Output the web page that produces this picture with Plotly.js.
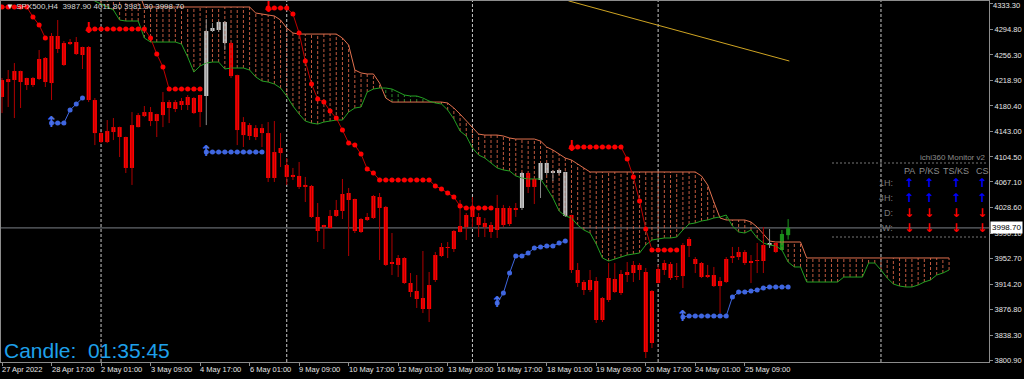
<!DOCTYPE html>
<html><head><meta charset="utf-8">
<script src="https://cdn.plot.ly/plotly-3.0.1.min.js"></script>
<style>html,body{margin:0;padding:0;background:#000;overflow:hidden}#chart{width:1024px;height:379px}</style>
</head><body><div id="chart"></div>
<script>
// ---------- DATA ----------
const symbolName = "SPX500";
const timeframe = "H4";

const openP = [4193.7,4220.5,4219.0,4232.4,4211.6,4222.0,4220.5,4251.8,4214.5,4284.6,
4241.4,4275.6,4275.6,4256.3,4268.2,4189.2,4140.0,4126.6,4141.5,4148.9,
4134.1,4088.0,4148.9,4165.3,4171.3,4157.9,4166.8,4186.2,4175.8,4187.7,
4181.8,4192.2,4171.3,4195.2,4292.0,4293.5,4305.4,4274.1,4226.4,4137.0,
4151.9,4134.1,4147.4,4140.0,4073.1,4117.7,4092.4,4074.6,4076.1,4059.7,
4061.2,4015.0,3999.9,3998.6,4016.5,4023.9,4050.7,4041.8,3992.6,4010.5,
4013.5,4044.7,4029.9,3944.9,3943.5,3953.9,3916.6,3904.7,3894.3,3877.9,
3921.1,3956.8,3970.3,3967.3,3992.6,3999.9,4015.0,4015.0,4006.0,4003.0,
3995.6,4028.4,4004.5,4028.4,4028.4,4080.5,4059.7,4070.1,4095.4,4080.5,
4085.0,4082.0,4017.9,3936.0,3918.1,3906.2,3919.6,3861.5,3891.3,3922.6,
3901.7,3933.0,3931.5,3943.5,3933.0,3827.2,3916.6,3936.0,3944.9,3925.5,
3927.0,3971.8,3952.4,3946.4,3925.5,3928.5,3912.1,3918.1,3953.8,3955.3,
3962.8,3946.4,3949.4,3949.4,3973.2,3976.2,3965.8,3987.9];

const highP = [4222.0,4233.9,4244.3,4233.0,4222.5,4223.5,4263.7,4253.3,4289.0,4308.4,
4277.1,4280.1,4283.1,4268.7,4269.7,4192.2,4141.5,4159.4,4162.4,4149.5,
4134.6,4171.3,4169.8,4180.3,4178.8,4168.8,4201.1,4189.2,4189.2,4192.2,
4196.7,4193.7,4197.2,4309.9,4303.9,4306.9,4306.9,4275.6,4227.0,4163.8,
4154.9,4151.9,4153.4,4156.4,4157.9,4140.0,4102.8,4088.0,4096.9,4074.6,
4062.7,4035.8,4003.5,4025.4,4040.3,4071.6,4058.2,4042.3,4013.5,4020.9,
4047.8,4050.7,4031.4,3991.1,3958.3,3955.3,3931.5,3928.5,3964.3,3933.0,
3962.8,3976.2,3977.7,3995.6,4040.3,4020.9,4044.7,4020.9,4013.5,4007.5,
4047.8,4032.9,4031.4,4035.8,4082.0,4082.0,4072.0,4096.0,4096.0,4085.0,
4086.5,4082.5,4018.4,3946.4,3921.1,3936.0,3925.5,3895.8,3946.4,3946.4,
3936.0,3947.9,3949.4,3946.4,3939.0,3906.2,3943.5,3950.9,3947.9,3946.4,
3976.2,3985.1,3955.3,3947.9,3943.5,3940.5,3925.5,3955.3,3970.3,3970.3,
3965.8,3958.3,3976.2,4000.1,3997.1,3977.7,3995.6,4011.8];

const lowP = [4169.8,4178.8,4162.4,4177.3,4204.1,4208.6,4219.0,4208.6,4189.2,4259.2,
4239.9,4271.1,4256.3,4235.4,4186.2,4122.1,4125.1,4125.1,4129.6,4104.3,
4080.5,4062.7,4148.4,4163.8,4150.4,4134.1,4148.9,4154.9,4171.3,4174.3,
4174.3,4168.3,4148.9,4151.9,4290.5,4290.5,4263.7,4222.0,4122.1,4119.2,
4129.6,4129.6,4119.2,4067.1,4067.1,4089.4,4062.7,4070.1,4056.7,4037.3,
4013.5,3977.7,3967.3,3997.1,4015.0,4012.0,3956.8,3991.1,3991.1,4009.0,
4012.0,3950.9,3942.0,3928.5,3925.5,3915.1,3895.8,3879.4,3871.9,3858.5,
3918.1,3955.3,3953.8,3962.8,3992.0,3980.7,3999.9,3985.1,3985.1,3983.7,
3983.7,3999.9,4001.5,4015.0,4025.4,4050.7,4034.3,4043.3,4077.6,4068.6,
4077.6,4015.0,3931.5,3910.7,3898.8,3903.2,3857.0,3858.5,3888.3,3901.7,
3898.8,3918.1,3918.1,3921.1,3804.9,3819.8,3916.0,3928.5,3921.1,3921.1,
3909.2,3955.3,3931.5,3924.0,3924.0,3910.7,3871.9,3916.6,3946.4,3950.9,
3943.5,3916.6,3931.5,3931.5,3968.8,3961.3,3965.3,3981.3];

const closeP = [4219.0,4216.0,4232.4,4216.0,4222.0,4211.6,4250.3,4216.0,4284.6,4265.2,
4274.1,4272.6,4257.7,4268.2,4189.2,4140.0,4126.6,4143.0,4148.9,4134.1,
4088.0,4151.9,4166.8,4171.3,4157.9,4168.3,4186.2,4177.3,4186.2,4181.8,
4193.7,4169.8,4196.7,4292.0,4296.5,4305.4,4274.1,4224.9,4144.5,4156.4,
4135.6,4147.4,4140.0,4073.1,4111.7,4110.2,4074.6,4077.6,4059.7,4062.7,
4015.0,3994.1,4003.0,4016.5,4025.4,4049.2,4040.3,3994.1,4012.0,4015.0,
4046.2,4028.4,3943.5,3947.9,3953.9,3916.6,3903.2,3892.8,3877.9,3913.6,
3958.3,3970.3,3968.8,3994.1,4001.5,4017.9,4029.9,4003.0,3999.9,3992.6,
4028.4,4003.0,4028.4,4025.4,4080.5,4059.7,4071.6,4095.4,4080.5,4083.5,
4080.5,4016.5,3936.0,3916.6,3906.2,3921.1,3861.5,3894.3,3924.1,3903.2,
3930.0,3928.5,3943.5,3936.0,3813.8,3904.7,3937.5,3946.4,3924.1,3927.0,
3973.2,3982.2,3944.9,3925.5,3928.5,3912.1,3919.6,3952.4,3956.8,3962.8,
3946.4,3949.4,3950.9,3973.2,3976.2,3962.8,3989.6,3998.7];

// candle colouring state of the indicator (gray = neutral, green = bullish, else red)
const grayIdx = [33,34,35,36,84,87,88,89,90,91,124];
const greenIdx = [126,127];

// Ichimoku Senkou spans (plotted 26 bars ahead, 154 points)
const senkouA = [4352,4352,4352,4352,4352,4352,4352,4352,4352,4352,
4352,4352,4352,4352,4343,4336.7,4332.3,4327.8,4323.3,4308.4,
4306.9,4306.9,4306.9,4281.6,4275.6,4275.6,4275.6,4275.6,4275.6,4272.6,
4253.3,4230.9,4239.9,4244.3,4245.8,4245.8,4235.4,4236.9,4236.9,4236.9,
4233.9,4223.5,4217.5,4216.0,4213.1,4207.1,4195.2,4180.3,4168.3,4157.9,
4154.9,4153.4,4156.4,4157.9,4159.4,4159.4,4171.3,4177.3,4178.8,4201.1,
4205.6,4207.1,4207.1,4205.6,4201.1,4196.7,4195.2,4195.2,4192.2,4187.7,
4184.8,4183.3,4174.3,4160.9,4143.0,4135.6,4117.7,4107.3,4102.8,4095.4,
4088.0,4085.0,4083.5,4076.1,4073.1,4071.6,4071.6,4071.6,4058.2,4043.3,
4023.9,4016.5,4013.5,4003.0,3995.6,3991.1,3974.7,3953.9,3949.4,3952.4,
3955.3,3958.3,3959.8,3961.3,3973.2,3980.7,3982.2,3983.7,3983.7,3985.1,
3995.6,4004.5,4006.0,4009.0,4010.5,4013.5,4015.0,4017.9,4001.5,3992.6,
3991.1,3995.6,3983.7,3976.2,3973.2,3971.8,3965.8,3947.9,3940.5,3940.5,
3918.1,3918.1,3918.1,3918.1,3918.1,3918.1,3925.5,3925.5,3925.5,3925.5,
3946.4,3946.4,3936.0,3924.1,3915.1,3912.1,3910.7,3910.7,3913.6,3918.1,
3921.1,3928.5,3931.5,3936.0];

const senkouB = [4352,4352,4352,4352,4352,4352,4352,4352,4352,4352,
4352,4352,4352,4352,4352,4352,4352,4352,4352,4352,
4352,4352,4352,4327.8,4327.8,4327.8,4327.8,4327.8,4327.8,4327.8,
4327.8,4327.8,4327.8,4327.8,4327.8,4327.8,4327.8,4327.8,4327.8,4327.8,
4327.8,4318.8,4317.3,4315.9,4314.4,4308.4,4296.5,4289.0,4287.5,4287.5,
4287.5,4287.5,4287.5,4287.5,4287.5,4281.6,4271.1,4233.9,4229.5,4228.0,
4228.0,4214.5,4192.2,4186.2,4186.2,4186.2,4186.2,4186.2,4186.2,4186.2,
4186.2,4186.2,4184.8,4177.3,4168.3,4157.9,4147.4,4138.5,4137.0,4137.0,
4137.0,4135.6,4132.6,4131.1,4131.1,4131.1,4131.1,4128.1,4119.2,4114.7,
4108.8,4102.8,4099.8,4093.9,4087.9,4082.0,4082.0,4082.0,4082.0,4082.0,
4082.0,4082.0,4082.0,4082.0,4082.0,4082.0,4082.0,4082.0,4082.0,4082.0,
4082.0,4082.0,4082.0,4076.1,4062.7,4037.3,4013.5,4010.5,4010.5,4010.5,
4010.5,4007.5,4000.0,3989.6,3979.2,3977.7,3977.7,3977.7,3977.7,3977.7,
3953.9,3953.9,3953.9,3953.9,3953.9,3953.9,3953.9,3953.9,3953.9,3953.9,
3953.9,3953.9,3953.9,3953.9,3953.9,3953.9,3953.9,3953.9,3953.9,3953.9,
3953.9,3953.9,3953.9,3953.9];

// trailing stop dots (red = above price, blue = below price)
const trailRed = [4327.8,4327.8,4327.8,4327.8,4327.8,4312.9,4301.0,4281.6,null,null,
null,null,null,null,4295.0,4295.0,4295.0,4295.0,4295.0,4295.0,
4295.0,4295.0,4295.0,4295.0,4281.6,4257.7,4238.4,4205.6,4205.6,4205.6,
4205.6,4205.6,4205.6,null,null,null,null,null,null,null,
null,null,null,4326.3,4326.3,4326.3,4326.3,4317.3,4289.0,4247.3,
4213.1,4190.7,4186.2,4172.8,4162.4,4144.5,4125.1,4122.1,4108.8,4086.5,
4080.5,4070.1,4070.1,4070.1,4070.1,4070.1,4070.1,4070.1,4070.1,4070.1,
4061.2,4056.7,4050.7,4044.7,4031.4,4028.4,4028.4,4028.4,4028.4,4028.4,
null,null,null,null,null,null,null,null,null,null,
null,null,4119.2,4119.2,4119.2,4119.2,4119.2,4119.2,4119.2,4119.2,
4119.2,4101.3,4074.6,4038.8,3997.1,3965.8,3965.8,3965.8,3965.8,3965.8,
null,null,null,null,null,null,null,null,null,null,
null,null,null,null,null,null,null,null];

const trailBlue = [null,null,null,null,null,null,null,null,4154.9,4154.9,
4154.9,4174.3,4183.2,4192.2,null,null,null,null,null,null,
null,null,null,null,null,null,null,null,null,null,
null,null,null,4111.7,4111.7,4111.7,4111.7,4111.7,4111.7,4111.7,
4111.7,4111.7,4111.7,null,null,null,null,null,null,null,
null,null,null,null,null,null,null,null,null,null,
null,null,null,null,null,null,null,null,null,null,
null,null,null,null,null,null,null,null,null,null,
3886.8,3901.7,3931.5,3956.8,3956.8,3961.3,3968.8,3970.3,3971.8,3971.8,
3976.2,3979.2,null,null,null,null,null,null,null,null,
null,null,null,null,null,null,null,null,null,null,
3866.0,3867.5,3867.5,3867.5,3867.5,3867.5,3867.5,3867.5,3895.8,3903.2,
3903.2,3904.7,3906.2,3909.2,3910.7,3910.7,3910.7,3910.7];

const arrowDownIdx = [14,43,92];
const arrowUpIdx = [8,33,80,110];

// trend line object (yellow)
const trendX = [91.5,127.2];
const trendY = [4337.0,4247.3];

// weekly separators (bar index)
const separatorIdx = [16,46,76,106,142];

// axes
const xTickIdx = [0,8,16,24,32,40,48,56,64,72,80,88,96,104,112,120];
const xTickText = ["27 Apr 2022","28 Apr 17:00","2 May 01:00","3 May 09:00","4 May 17:00","6 May 01:00",
"9 May 09:00","10 May 17:00","12 May 01:00","13 May 09:00","16 May 17:00","18 May 01:00",
"19 May 09:00","20 May 17:00","24 May 01:00","25 May 09:00"];
const yTickVals = [4333.30,4294.80,4256.30,4218.90,4180.40,4143.00,4104.50,4067.10,4028.60,3990.10,3952.70,3914.20,3876.80,3838.30,3800.90];
const yTickText = yTickVals.map(v=>v.toFixed(2));

// monitor panel
const monitorTitle = "ichi360 Monitor v2";
const monitorCols = ["PA","P/KS","TS/KS","CS"];
const monitorRows = ["1H:","4H:","D:","W:"];
const monitorSignals = [[1,1,1,1],[1,1,1,1],[-1,-1,-1,-1],[-1,-1,-1,-1]];
const candleTimer = "01:35:45";

// ---------- BUILD ----------
const N = openP.length;
const idx = openP.map((_,i)=>i);
const cIdx = senkouA.map((_,i)=>i);
const lastClose = closeP[N-1];
const stateOf = i => greenIdx.includes(i) ? 'g' : (grayIdx.includes(i) ? 'n' : 'r');
const wickCol = {r:'#b00000', n:'#8a8a8a', g:'#1c9a1c'};
const bodyCol = {r:'#ff0000', n:'#c8c8c8', g:'#1a8c1a'};

const traces = [];
// hatch
const bearX=[],bearY=[],bullX=[],bullY=[];
cIdx.forEach(i=>{
  const a=senkouA[i], b=senkouB[i];
  if (Math.abs(a-b)<0.3) return;
  if (b>a){bearX.push(i,i,null);bearY.push(a,b,null);}
  else {bullX.push(i,i,null);bullY.push(b,a,null);}
});
traces.push({type:'scatter',mode:'lines',x:bearX,y:bearY,line:{color:'rgba(214,100,70,0.9)',width:1,dash:'3px,2px'},hoverinfo:'skip'});
traces.push({type:'scatter',mode:'lines',x:bullX,y:bullY,line:{color:'#2f8a2f',width:1,dash:'3px,2px'},hoverinfo:'skip'});
traces.push({type:'scatter',mode:'lines',x:cIdx,y:senkouB,line:{color:'#e0704e',width:1},hoverinfo:'skip'});
traces.push({type:'scatter',mode:'lines',x:cIdx,y:senkouA,line:{color:'#22a022',width:1},hoverinfo:'skip'});

// wicks
['r','n','g'].forEach(s=>{
  const wx=[],wy=[];
  idx.forEach(i=>{ if(stateOf(i)===s){wx.push(i,i,null);wy.push(lowP[i],highP[i],null);} });
  traces.push({type:'scatter',mode:'lines',x:wx,y:wy,line:{color:wickCol[s],width:1},hoverinfo:'skip'});
});
// bodies
const minH = 1.5;
const bBase=[], bH=[], bC=[];
idx.forEach(i=>{
  let lo=Math.min(openP[i],closeP[i]), hi=Math.max(openP[i],closeP[i]);
  if (hi-lo<minH){const m=(hi+lo)/2; lo=m-minH/2; hi=m+minH/2;}
  bBase.push(lo); bH.push(hi-lo); bC.push(bodyCol[stateOf(i)]);
});
traces.push({type:'bar',x:idx,y:bH,base:bBase,width:0.66,marker:{color:bC,line:{width:0}},hoverinfo:'skip'});

// trend line
traces.push({type:'scatter',mode:'lines',x:trendX,y:trendY,line:{color:'#cfa422',width:1},hoverinfo:'skip'});
// trailing stops
traces.push({type:'scatter',mode:'lines+markers',x:idx,y:trailRed,line:{color:'#c00000',width:1},marker:{color:'#ff0000',size:5},hoverinfo:'skip'});
traces.push({type:'scatter',mode:'lines+markers',x:idx,y:trailBlue,line:{color:'#3f66e0',width:1},marker:{color:'#3f66e0',size:5},hoverinfo:'skip'});
// arrows
traces.push({type:'scatter',mode:'text',x:arrowDownIdx,y:arrowDownIdx.map(i=>trailRed[i]),text:arrowDownIdx.map(()=>'↓'),
  textfont:{family:'DejaVu Sans',size:15,weight:'bold',color:'#ff0000'},textposition:'middle center',hoverinfo:'skip',cliponaxis:true});
traces.push({type:'scatter',mode:'text',x:arrowUpIdx,y:arrowUpIdx.map(i=>trailBlue[i]),text:arrowUpIdx.map(()=>'↑'),
  textfont:{family:'DejaVu Sans',size:15,weight:'bold',color:'#4a70ea'},textposition:'middle center',hoverinfo:'skip',cliponaxis:false});

// ---------- LAYOUT ----------
const L=1, R=35, T=1, B=17, W=1024, H=379;
const pw=W-L-R, ph=H-T-B;
const px2paperX = px => (px-L)/pw;
const px2paperY = py => (H-B-py)/ph;
const lblFont = {family:'Liberation Sans, Arial, sans-serif',size:7.5,color:'#e6e6e6'};

const shapes = [];
separatorIdx.forEach(s=>shapes.push({type:'line',xref:'x',yref:'paper',x0:s,x1:s,y0:0,y1:1,layer:'below',line:{color:'#c8c8c8',width:1,dash:'3px,2px'}}));
shapes.push({type:'line',xref:'paper',yref:'y',x0:0,x1:1,y0:lastClose,y1:lastClose,layer:'below',line:{color:'#7c8088',width:1}});
shapes.push({type:'line',xref:'paper',yref:'paper',x0:px2paperX(832),x1:px2paperX(986),y0:px2paperY(163),y1:px2paperY(163),line:{color:'#777',width:1,dash:'2px,2px'}});
shapes.push({type:'line',xref:'paper',yref:'paper',x0:px2paperX(832),x1:px2paperX(986),y0:px2paperY(237),y1:px2paperY(237),line:{color:'#777',width:1,dash:'2px,2px'}});

const ann = [];
xTickIdx.forEach((k,j)=>ann.push({x:k,xref:'x',y:px2paperY(369),yref:'paper',xanchor:'left',yanchor:'middle',xshift:-2,
  text:xTickText[j],showarrow:false,font:lblFont}));
// top price label (drawn as text so it is not dropped at the edge)
ann.push({x:1,xref:'paper',y:1,yref:'paper',xanchor:'left',yanchor:'top',xshift:3,yshift:1,borderpad:0,text:yTickText[0],showarrow:false,font:lblFont});
ann.push({x:1,xref:'paper',y:lastClose,yref:'y',xanchor:'left',yanchor:'middle',xshift:1,text:lastClose.toFixed(2),showarrow:false,
  bgcolor:'#ffffff',borderpad:1,font:{family:'Liberation Sans, Arial, sans-serif',size:8,color:'#000'}});
ann.push({x:px2paperX(4),xref:'paper',y:px2paperY(7),yref:'paper',xanchor:'left',yanchor:'middle',showarrow:false,
  text:'▼ '+symbolName+','+timeframe+'  '+openP[N-1].toFixed(2)+' '+highP[N-1].toFixed(2)+' '+lowP[N-1].toFixed(2)+' '+closeP[N-1].toFixed(2),
  font:{family:'Liberation Sans, Arial, sans-serif',size:8,color:'#d8d8d8'}});
ann.push({x:px2paperX(2),xref:'paper',y:px2paperY(350),yref:'paper',xanchor:'left',yanchor:'middle',showarrow:false,
  text:'Candle:\u00a0\u00a0'+candleTimer,font:{family:'Liberation Sans, Arial, sans-serif',size:21,color:'#1ea0ea'}});
// monitor
ann.push({x:px2paperX(987),xref:'paper',y:px2paperY(157),yref:'paper',xanchor:'right',yanchor:'middle',showarrow:false,
  text:monitorTitle,font:{family:'Liberation Sans, Arial, sans-serif',size:8,color:'#8c8c8c'}});
const colPx=[909,929,956,982], rowPy=[183,198,213,228];
monitorCols.forEach((c,j)=>ann.push({x:px2paperX(colPx[j]),xref:'paper',y:px2paperY(171),yref:'paper',xanchor:'center',yanchor:'middle',showarrow:false,
  borderpad:0,text:c,font:{family:'Liberation Sans, Arial, sans-serif',size:9,color:'#8c8c8c'}}));
monitorRows.forEach((r,k)=>{
  ann.push({x:px2paperX(894),xref:'paper',y:px2paperY(rowPy[k]),yref:'paper',xanchor:'right',yanchor:'middle',showarrow:false,
    borderpad:0,text:r,font:{family:'Liberation Sans, Arial, sans-serif',size:9,color:'#7a7a7a'}});
  monitorSignals[k].forEach((s,j)=>ann.push({x:px2paperX(colPx[j]),xref:'paper',y:px2paperY(rowPy[k]),yref:'paper',xanchor:'center',yanchor:'middle',showarrow:false,
    borderpad:0,text:s>0?'↑':'↓',font:{family:'DejaVu Sans',size:12,weight:'bold',color:s>0?'#0000ff':'#ff0000'}}));
});

const layout = {
  width:W,height:H,margin:{l:L,r:R,t:T,b:B,pad:0},
  paper_bgcolor:'#000',plot_bgcolor:'#000',showlegend:false,hovermode:false,barmode:'overlay',
  xaxis:{range:[-0.162,159.45],showgrid:false,zeroline:false,showline:true,linecolor:'#8c8c8c',linewidth:1,mirror:true,
    ticks:'outside',ticklen:3,tickcolor:'#8c8c8c',tickvals:xTickIdx,showticklabels:false,fixedrange:true},
  yaxis:{range:[3798.94,4336.73],side:'right',showgrid:false,zeroline:false,showline:true,linecolor:'#8c8c8c',linewidth:1,mirror:true,
    ticks:'outside',ticklen:3,tickcolor:'#8c8c8c',tickvals:yTickVals,ticktext:yTickText.map((t,i)=>i===0?'':t),tickfont:lblFont,fixedrange:true},
  shapes:shapes,annotations:ann
};
Plotly.newPlot('chart',traces,layout,{staticPlot:true,displayModeBar:false});
</script></body></html>
